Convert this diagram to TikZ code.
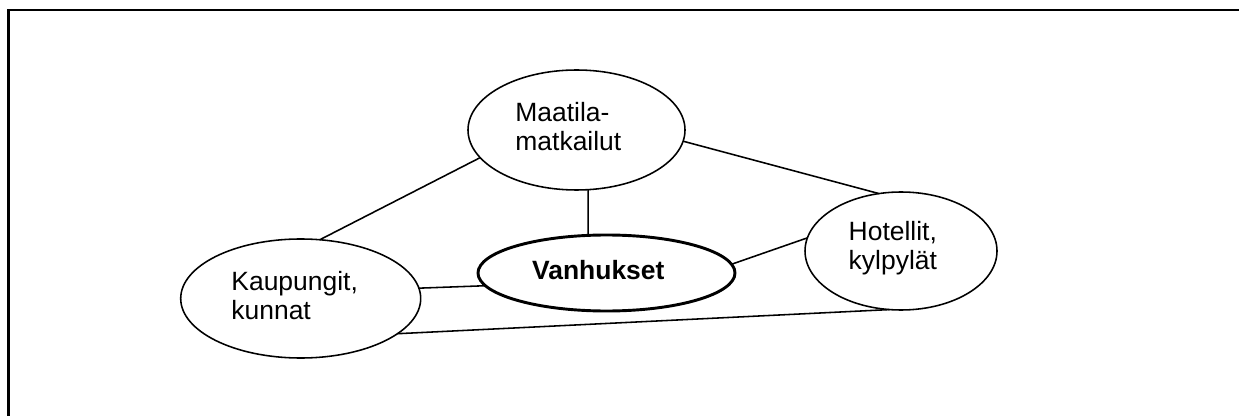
\documentclass[tikz,border=0pt]{standalone}
\usepackage{fontspec}
\setmainfont{Liberation Sans}
\usetikzlibrary{shapes.geometric}
\begin{document}
\begin{tikzpicture}[x=0.48pt,y=-0.48pt,
  bubble/.style={ellipse,draw,line width=0.75pt,inner sep=0pt,outer sep=0pt},
  link/.style={line width=0.75pt},
  lbl/.style={anchor=base west,inner sep=0pt,align=left,font=\fontsize{12.7}{13.92}\selectfont}]
\useasboundingbox (0,0) rectangle (1239,416);
\clip (0,0) rectangle (1239,416);
\draw[line width=1.4pt] (1260,10) -| (8.5,440);
% ellipses
\node[bubble,minimum width=104.16pt,minimum height=57.6pt] (m) at (576.5,130) {};
\node[bubble,minimum width=115.2pt,minimum height=57.12pt] (k) at (300.7,298.5) {};
\node[bubble,line width=1.4pt,minimum width=123.36pt,minimum height=36.48pt] (v) at (606.5,273) {};
\node[bubble,minimum width=92.16pt,minimum height=56.64pt] (h) at (901,251) {};
% labels (base anchor = baseline of the last line)
\node[lbl] (mt) at (515,150.7) {Maatila-\\matkailut};
\node[lbl] (kt) at (231,319) {Kaupungit,\\kunnat};
\node[lbl,font=\fontsize{12.7}{13.92}\selectfont\bfseries] (vt) at (531.7,280) {Vanhukset};
\node[lbl] (ht) at (848.3,270) {Hotellit,\\kylpylät};
% connectors
\draw[link] (m.196.2) -- (k.72.2);
\draw[link] (m.-6.2) -- (h.111);
\draw[link] (m.-79.2) -- (v.116.2);
\draw[link] (k.5.6) -- (v.186.3);
\draw[link] (v.4.65) -- (h.172.2);
\draw[link] (k.-20) -- (h.259.4);
\end{tikzpicture}
\end{document}
